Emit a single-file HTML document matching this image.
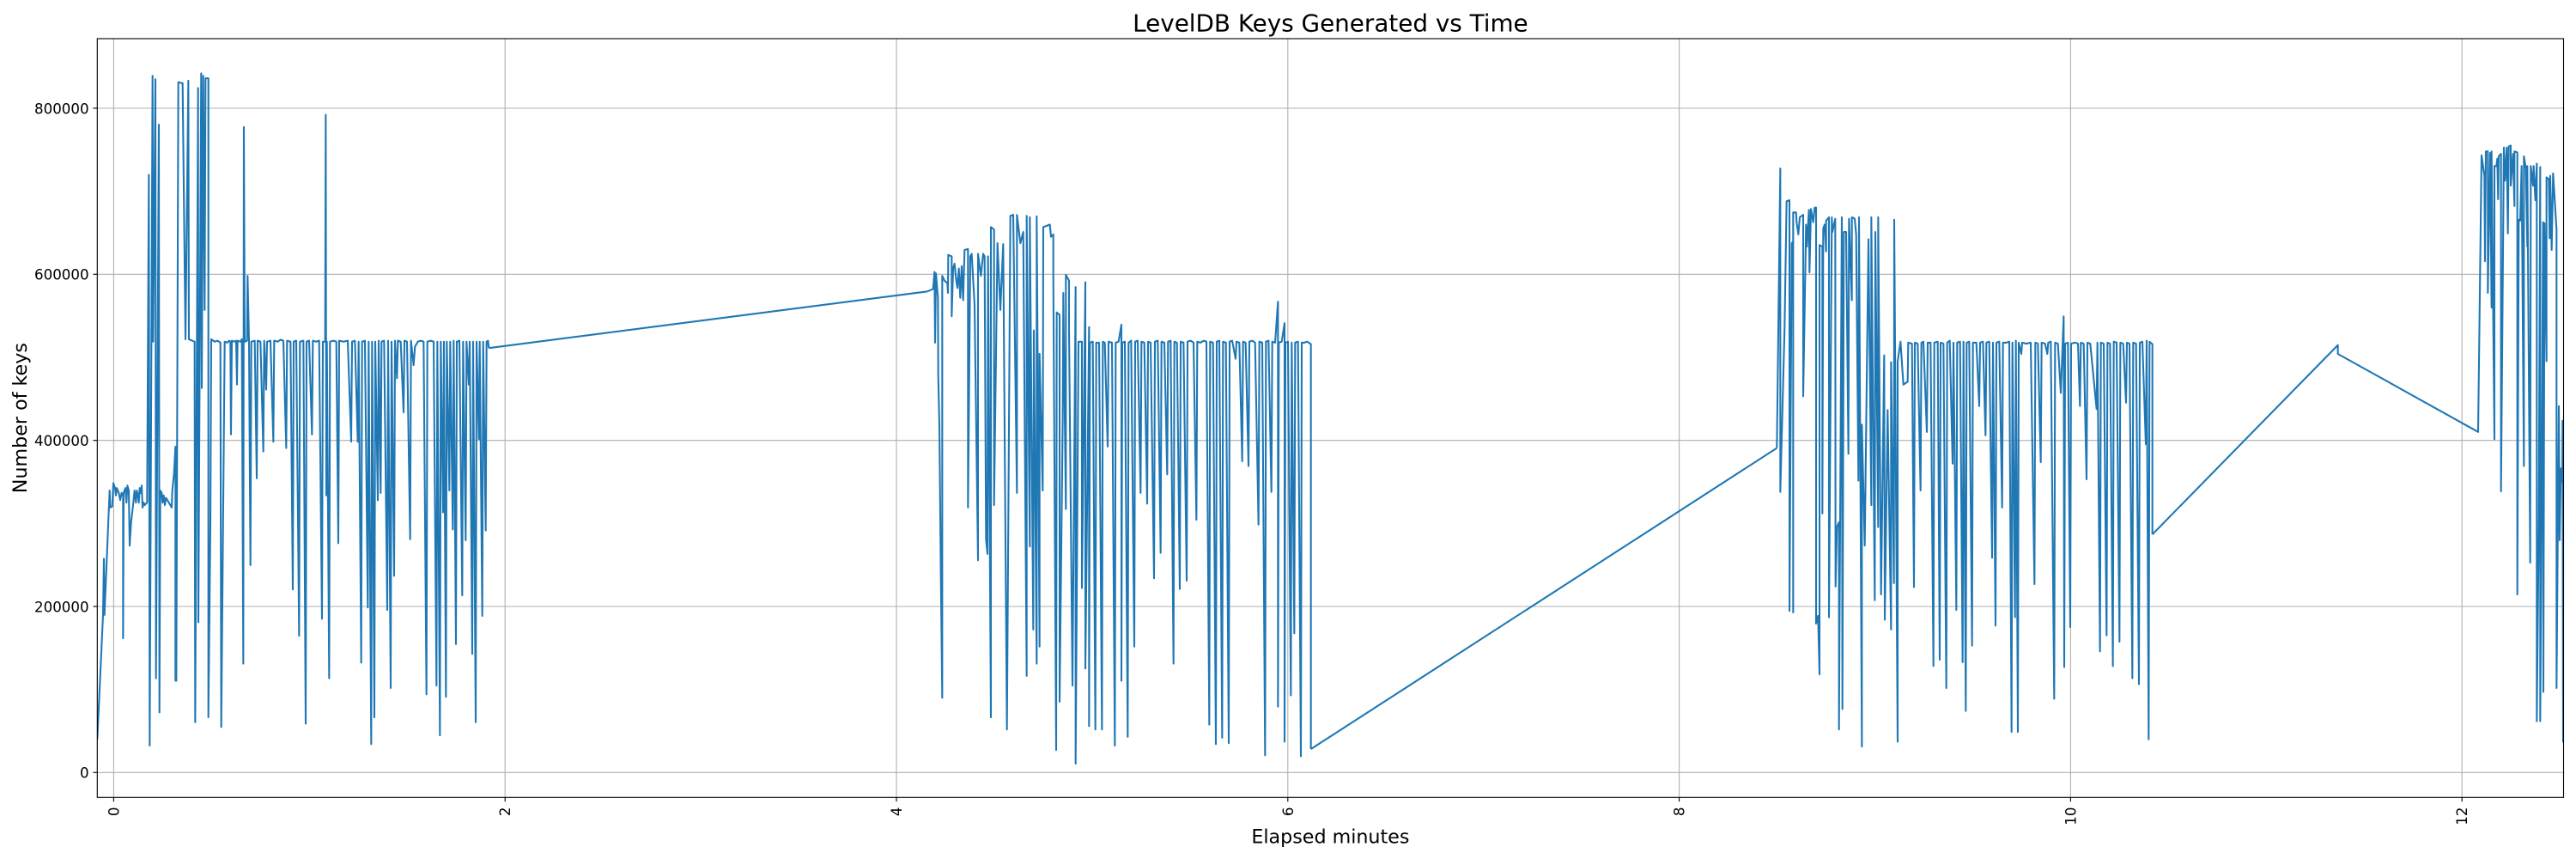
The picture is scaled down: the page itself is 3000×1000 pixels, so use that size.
<!DOCTYPE html>
<html>
<head>
<meta charset="utf-8">
<style>
html,body{margin:0;padding:0;background:#fff;}
svg{display:block;}
</style>
</head>
<body>
<svg width="3000" height="1000" viewBox="0 0 3000 1000" xmlns="http://www.w3.org/2000/svg" font-family="'DejaVu Sans','Liberation Sans',sans-serif">
<rect x="0" y="0" width="3000" height="1000" fill="#ffffff"/>
<defs>
<clipPath id="c"><rect x="113.3" y="45" width="2872.2" height="883.3"/></clipPath>
</defs>

<!-- grid -->
<g stroke="#b0b0b0" stroke-width="1.1" fill="none">
<line x1="132.4" y1="45" x2="132.4" y2="928.3"/>
<line x1="588.2" y1="45" x2="588.2" y2="928.3"/>
<line x1="1044.0" y1="45" x2="1044.0" y2="928.3"/>
<line x1="1499.8" y1="45" x2="1499.8" y2="928.3"/>
<line x1="1955.6" y1="45" x2="1955.6" y2="928.3"/>
<line x1="2411.4" y1="45" x2="2411.4" y2="928.3"/>
<line x1="2867.2" y1="45" x2="2867.2" y2="928.3"/>
<line x1="113.3" y1="899.3" x2="2985.5" y2="899.3"/>
<line x1="113.3" y1="706.0" x2="2985.5" y2="706.0"/>
<line x1="113.3" y1="512.7" x2="2985.5" y2="512.7"/>
<line x1="113.3" y1="319.3" x2="2985.5" y2="319.3"/>
<line x1="113.3" y1="126.0" x2="2985.5" y2="126.0"/>
</g>

<!-- data -->
<g clip-path="url(#c)" fill="none" stroke="#1f77b4" stroke-width="2.08" stroke-linejoin="round">
<path vector-effect="non-scaling-stroke" transform="translate(110,40) scale(0.333333,0.5679)" d="M10,1445 L30,1190 L33,1075 L35,1190 L53,935 L55,970 L62,968 L66,920 L72,930 L75,945 L78,930 L85,940 L90,955 L95,940 L100,945 L100,1238 L102,940 L108,930 L112,960 L115,925 L120,935 L123,1048 L128,1000 L135,965 L140,935 L145,960 L148,935 L152,945 L155,960 L158,930 L162,940 L165,925 L168,970 L172,960 L176,965 L180,962 L184,960 L190,288 L193,1458 L203,85 L205,630 L213,92 L215,1320 L225,185 L227,1390 L230,935 L235,940 L238,960 L242,945 L246,965 L250,950 L255,955 L260,960 L265,965 L270,970 L272,935 L278,900 L283,845 L283,1325 L286,1325 L293,98 L305,100 L308,100 L318,625 L328,95 L330,625 L350,630 L352,1410 L362,110 L363,1205 L373,80 L375,725 L380,85 L385,565 L388,90 L398,90 L398,1400 L405,1005 L408,625 L420,630 L430,628 L440,632 L443,1420 L455,630 L465,632 L470,628 L475,630 L477,820 L480,628 L490,630 L495,628 L498,718 L500,628 L510,630 L515,625 L520,1290 L522,190 L525,630 L533,628 L535,495 L540,630 L545,1088 L548,630 L560,628 L567,910 L570,628 L580,630 L590,855 L593,628 L600,728 L603,630 L615,628 L625,835 L628,628 L640,630 L650,626 L660,628 L670,848 L673,628 L685,630 L693,1138 L696,630 L705,628 L715,1233 L718,630 L730,628 L738,1413 L741,630 L750,628 L760,820 L763,628 L775,630 L785,628 L795,1198 L798,630 L806,630 L808,165 L810,945 L812,630 L820,1320 L823,630 L835,628 L845,630 L852,1043 L855,628 L870,630 L885,628 L897,835 L900,630 L910,628 L920,835 L923,630 L932,1288 L935,630 L945,628 L955,1175 L958,630 L967,1455 L970,630 L978,1400 L981,630 L990,955 L993,628 L1000,940 L1003,630 L1012,628 L1023,1180 L1026,628 L1035,1340 L1038,630 L1047,1110 L1050,628 L1057,705 L1060,628 L1070,630 L1080,775 L1083,628 L1092,630 L1103,1035 L1106,628 L1115,678 L1120,640 L1130,630 L1140,628 L1150,630 L1160,1353 L1163,630 L1175,628 L1185,630 L1195,1335 L1198,630 L1207,1437 L1210,630 L1218,980 L1221,630 L1228,1358 L1231,630 L1240,935 L1243,630 L1252,1015 L1255,628 L1263,1250 L1266,630 L1275,628 L1285,1150 L1288,630 L1297,1037 L1300,630 L1308,718 L1311,630 L1320,1270 L1323,630 L1332,1410 L1335,630 L1343,830 L1346,630 L1355,1192 L1358,630 L1367,1017 L1370,630 L1375,628 L1378,643"/>
<path d="M569.3,405.2 L1080,339.3"/>
<path vector-effect="non-scaling-stroke" transform="translate(1080,40) scale(0.333333,0.5679)" d="M0,527 L20,522 L25,487 L27,632 L30,490 L37,540 L38,698 L42,800 L47,1100 L52,1360 L52,495 L60,505 L70,510 L72,530 L73,452 L85,455 L85,578 L90,480 L95,470 L100,500 L105,520 L110,480 L115,540 L120,475 L125,545 L130,442 L142,440 L142,970 L150,455 L155,450 L165,555 L177,1078 L177,450 L187,495 L195,450 L200,455 L205,1035 L210,1065 L212,455 L222,1400 L222,395 L233,400 L233,965 L245,428 L255,565 L265,430 L278,1425 L290,372 L300,370 L313,940 L313,370 L325,428 L335,405 L347,1315 L347,372 L358,1050 L358,375 L370,1220 L372,607 L382,1290 L382,373 L392,1255 L392,655 L403,935 L405,395 L428,390 L432,415 L440,410 L440,490 L450,1467 L452,570 L462,575 L462,1368 L473,785 L475,530 L484,973 L484,493 L495,505 L495,610 L507,1335 L518,518 L518,1495 L528,630 L540,630 L540,1135 L552,508 L552,1300 L565,600 L565,1418 L568,632 L578,630 L587,1425 L590,632 L600,632 L610,1425 L613,630 L620,632 L630,845 L633,630 L645,632 L655,1458 L658,632 L668,630 L678,595 L678,1325 L681,632 L690,630 L700,1440 L703,632 L712,628 L723,1255 L726,630 L735,628 L745,940 L748,630 L758,632 L768,962 L771,630 L780,632 L792,1115 L795,630 L805,628 L815,1063 L818,630 L828,632 L838,902 L841,630 L850,628 L860,1290 L863,630 L872,632 L882,1137 L885,630 L895,632 L906,1120 L909,630 L920,628 L930,632 L940,995 L943,630 L955,632 L965,628 L975,630 L985,1415 L988,630 L998,632 L1008,1455 L1011,630 L1020,628 L1030,1442 L1033,630 L1043,632 L1053,1453 L1056,630 L1065,628 L1077,665 L1080,630 L1090,632 L1100,875 L1103,630 L1112,632 L1122,885 L1125,630 L1135,628 L1145,632 L1157,1005 L1160,630 L1170,632 L1180,1478 L1183,630 L1192,628 L1202,938 L1205,630 L1215,632 L1225,548 L1225,1378 L1228,632 L1238,630 L1248,592 L1248,1450 L1251,632 L1260,630 L1270,1355 L1273,632 L1282,1228 L1285,632 L1295,630 L1305,1480 L1308,632 L1317,632 L1327,630 L1340,635 L1340,1465"/>
<path d="M1526.7,872.0 L2069.3,521.6"/>
<path vector-effect="non-scaling-stroke" transform="translate(2060,40) scale(0.333333,0.5679)" d="M28,848 L40,275 L40,938 L55,600 L62,342 L72,340 L72,1182 L80,428 L85,425 L85,1185 L85,365 L95,365 L97,385 L103,410 L108,375 L120,370 L120,742 L130,390 L133,435 L140,360 L142,488 L147,358 L155,385 L160,355 L165,355 L165,1208 L172,1192 L177,1312 L177,432 L187,435 L187,982 L190,398 L195,390 L200,445 L200,382 L210,375 L210,1195 L220,375 L222,405 L232,378 L233,1132 L238,1010 L245,1000 L245,1425 L255,375 L257,1383 L262,405 L270,405 L278,860 L280,378 L290,545 L290,375 L300,378 L305,410 L313,915 L315,375 L325,1460 L325,800 L335,1048 L348,420 L358,965 L358,375 L370,1160 L372,405 L382,1010 L382,375 L392,1148 L403,658 L405,1200 L415,770 L427,1220 L427,672 L437,1125 L438,380 L450,1450 L450,670 L460,630 L470,718 L485,712 L487,632 L500,634 L507,1133 L510,632 L520,634 L530,935 L533,632 L540,630 L552,815 L555,632 L565,632 L575,1295 L578,632 L590,630 L597,1282 L600,632 L610,634 L620,1340 L623,632 L632,628 L642,880 L645,632 L655,1180 L658,632 L668,630 L677,1287 L680,630 L688,1387 L691,632 L700,630 L710,1253 L713,632 L725,632 L735,762 L738,632 L748,630 L757,822 L760,632 L770,630 L780,1073 L783,632 L792,1212 L795,632 L805,630 L815,970 L818,632 L830,632 L840,630 L848,1430 L851,632 L860,1195 L863,628 L870,1430 L873,632 L882,655 L885,632 L900,634 L915,632 L928,1127 L931,632 L940,634 L950,877 L953,632 L965,634 L973,655 L976,632 L985,630 L997,1362 L1000,632 L1010,634 L1020,735 L1030,578 L1032,1297 L1035,634 L1045,632 L1053,1215 L1056,634 L1070,632 L1080,634 L1087,762 L1090,632 L1100,634 L1110,912 L1113,632 L1123,634 L1133,695 L1145,768 L1148,632 L1157,1265 L1160,632 L1170,634 L1180,1232 L1183,632 L1192,634 L1202,1295 L1205,630 L1215,632 L1225,1245 L1228,632 L1238,634 L1248,755 L1251,632 L1260,634 L1270,1320 L1273,632 L1283,634 L1293,1332 L1296,632 L1305,630 L1317,840 L1320,628 L1327,1445 L1330,630 L1340,635 L1340,1025"/>
<path vector-effect="non-scaling-stroke" transform="translate(2500,40) scale(0.333333,0.5679)" d="M20,1025 L668,637 L668,655 L1158,815 L1170,248 L1180,290 L1182,465 L1185,240 L1192,240 L1192,530 L1200,243 L1205,560 L1205,240 L1215,830 L1215,270 L1222,270 L1225,255 L1228,338 L1230,250 L1238,245 L1238,937 L1248,232 L1252,300 L1258,232 L1262,408 L1265,230 L1272,228 L1272,310 L1280,245 L1285,352 L1285,240 L1295,242 L1295,1148 L1300,380 L1305,382 L1310,270 L1318,885 L1318,250 L1325,275 L1330,435 L1330,270 L1340,1083 L1342,270 L1350,310 L1352,270 L1358,340 L1363,265 L1363,1408 L1370,995 L1375,272 L1375,1408 L1380,960 L1385,385 L1386,1348 L1390,387 L1397,670 L1397,293 L1405,297 L1408,418 L1410,290 L1415,442 L1420,285 L1432,400 L1432,1340 L1440,762 L1443,1037 L1447,890 L1452,918 L1453,792 L1455,1450 L1462,1450"/>
</g>

<!-- spines -->
<rect x="113.3" y="45" width="2872.2" height="883.3" fill="none" stroke="#000" stroke-width="1.1"/>

<!-- ticks -->
<g stroke="#000" stroke-width="1.1">
<line x1="132.4" y1="928.3" x2="132.4" y2="933.2"/>
<line x1="588.2" y1="928.3" x2="588.2" y2="933.2"/>
<line x1="1044.0" y1="928.3" x2="1044.0" y2="933.2"/>
<line x1="1499.8" y1="928.3" x2="1499.8" y2="933.2"/>
<line x1="1955.6" y1="928.3" x2="1955.6" y2="933.2"/>
<line x1="2411.4" y1="928.3" x2="2411.4" y2="933.2"/>
<line x1="2867.2" y1="928.3" x2="2867.2" y2="933.2"/>
<line x1="108.4" y1="899.3" x2="113.3" y2="899.3"/>
<line x1="108.4" y1="706.0" x2="113.3" y2="706.0"/>
<line x1="108.4" y1="512.7" x2="113.3" y2="512.7"/>
<line x1="108.4" y1="319.3" x2="113.3" y2="319.3"/>
<line x1="108.4" y1="126.0" x2="113.3" y2="126.0"/>
</g>

<!-- y tick labels -->
<g font-size="16.67" fill="#000" text-anchor="end">
<text x="103.6" y="905.6">0</text>
<text x="103.6" y="712.3">200000</text>
<text x="103.6" y="519.0">400000</text>
<text x="103.6" y="325.6">600000</text>
<text x="103.6" y="132.3">800000</text>
</g>

<!-- x tick labels (rotated) -->
<g font-size="16.67" fill="#000" text-anchor="end">
<text transform="translate(138.4,939.5) rotate(-90)">0</text>
<text transform="translate(594.2,939.5) rotate(-90)">2</text>
<text transform="translate(1050.0,939.5) rotate(-90)">4</text>
<text transform="translate(1505.8,939.5) rotate(-90)">6</text>
<text transform="translate(1961.6,939.5) rotate(-90)">8</text>
<text transform="translate(2417.4,939.5) rotate(-90)">10</text>
<text transform="translate(2873.2,939.5) rotate(-90)">12</text>
</g>

<!-- axis labels -->
<text x="1549.4" y="981.5" font-size="22.2" text-anchor="middle" fill="#000">Elapsed minutes</text>
<text transform="translate(31,486.6) rotate(-90)" font-size="22.2" text-anchor="middle" fill="#000">Number of keys</text>

<!-- title -->
<text x="1549.4" y="36.7" font-size="27.8" text-anchor="middle" fill="#000">LevelDB Keys Generated vs Time</text>
</svg>
</body>
</html>
